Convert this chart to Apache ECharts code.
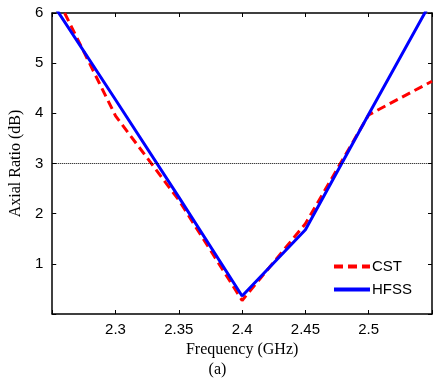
<!DOCTYPE html>
<html>
<head>
<meta charset="utf-8">
<script src="https://cdn.jsdelivr.net/npm/echarts@6/dist/echarts.min.js"></script>
<style>
html, body { margin: 0; padding: 0; background: #fff; }
#make { width: 435px; height: 386px; }
</style>
</head>
<body>
<div id="make"></div>
<script>
// frequency (GHz) and axial ratio (dB)
var freqCST = [2.25, 2.30, 2.35, 2.40, 2.45, 2.50, 2.55];
var arCST = [6.5, 3.95, 2.27, 0.27, 1.8, 3.97, 4.64];
var freqHFSS = [2.25, 2.30, 2.35, 2.40, 2.45, 2.50, 2.55];
var arHFSS = [6.2, 4.27, 2.33, 0.36, 1.68, 3.98, 6.26];
var refLevel = 3;

function pairs(xs, ys) {
    var out = [];
    for (var i = 0; i < xs.length; i++) out.push([xs[i], ys[i]]);
    return out;
}

var chartDom = document.getElementById('make');
var myChart = echarts.init(chartDom);
var option;

var tickFont = { fontFamily: 'Liberation Sans', fontSize: 15, color: '#000' };
var serifFont = { fontFamily: 'Liberation Serif', fontSize: 16, color: '#000' };
var frame = { onZero: false, lineStyle: { color: '#000', width: 1.5 } };
var ticksIn = { inside: true, length: 4, lineStyle: { color: '#000' } };

option = {
    animation: false,
    grid: { left: 49, right: 1, top: 13, bottom: 72 },
    title: {
        text: '(a)',
        left: 'center',
        top: 357,
        textStyle: { fontFamily: 'Liberation Serif', fontSize: 16, fontWeight: 'normal', color: '#000' }
    },
    legend: {
        orient: 'vertical',
        right: 18,
        top: 254,
        itemWidth: 36,
        itemHeight: 12,
        itemGap: 8,
        itemStyle: { opacity: 0 },
        lineStyle: { width: 4 },
        textStyle: { fontFamily: 'Liberation Sans', fontSize: 15, color: '#000', padding: [0, 0, 0, -3] },
        data: ['CST', 'HFSS']
    },
    xAxis: [{
        type: 'value',
        min: 2.25,
        max: 2.55,
        interval: 0.05,
        name: 'Frequency (GHz)',
        nameLocation: 'middle',
        nameGap: 22,
        nameTextStyle: serifFont,
        axisLine: frame,
        axisTick: ticksIn,
        axisLabel: Object.assign({
            margin: 8,
            formatter: function (v) {
                if (v < 2.26 || v > 2.54) return '';
                return String(+v.toFixed(2));
            }
        }, tickFont),
        splitLine: { show: false }
    }, {
        type: 'value',
        position: 'top',
        min: 2.25,
        max: 2.55,
        interval: 0.05,
        axisLine: frame,
        axisTick: ticksIn,
        axisLabel: { show: false },
        splitLine: { show: false }
    }],
    yAxis: [{
        type: 'value',
        min: 0,
        max: 6,
        interval: 1,
        name: 'Axial Ratio (dB)',
        nameLocation: 'middle',
        nameGap: 26,
        nameTextStyle: serifFont,
        axisLine: frame,
        axisTick: ticksIn,
        axisLabel: Object.assign({
            margin: 9,
            formatter: function (v) { return v === 0 ? '' : String(v); }
        }, tickFont),
        splitLine: { show: false }
    }, {
        type: 'value',
        position: 'right',
        min: 0,
        max: 6,
        interval: 1,
        axisLine: frame,
        axisTick: ticksIn,
        axisLabel: { show: false },
        splitLine: { show: false }
    }],
    series: [{
        name: 'CST',
        type: 'line',
        data: pairs(freqCST, arCST),
        symbol: 'none',
        color: '#ff0000',
        lineStyle: { color: '#ff0000', width: 3, type: [9, 5] },
        z: 2,
        markLine: {
            silent: true,
            symbol: 'none',
            label: { show: false },
            lineStyle: { color: '#000', width: 1, type: [1, 1] },
            data: [{ yAxis: refLevel }]
        }
    }, {
        name: 'HFSS',
        type: 'line',
        data: pairs(freqHFSS, arHFSS),
        symbol: 'none',
        color: '#0000ff',
        lineStyle: { color: '#0000ff', width: 3 },
        z: 3
    }]
};

option && myChart.setOption(option);
</script>
</body>
</html>
